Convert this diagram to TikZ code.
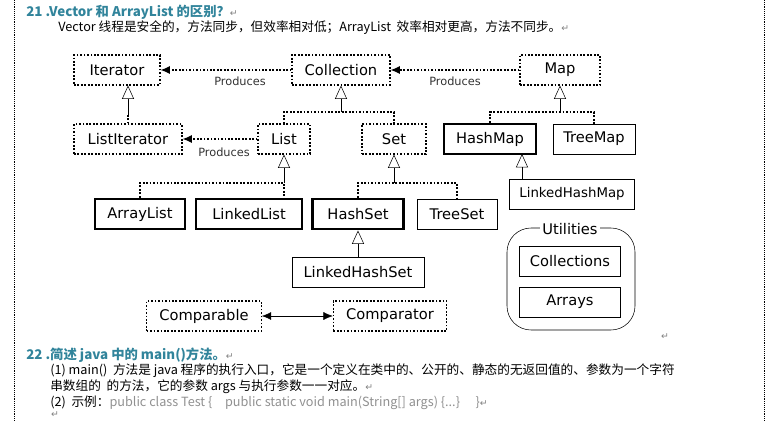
\documentclass[tikz,border=0pt]{standalone}
\usepackage{fontspec}
\setmainfont{DejaVu Sans}
\newfontfamily\cjk{Noto Sans CJK SC}
\newfontfamily\djv{DejaVu Sans}
\newcommand\retmark{{\djv\mdseries\textcolor{gray}{\fontsize{7}{8}\selectfont ↵}}}
\usetikzlibrary{arrows.meta}
\definecolor{teal1}{HTML}{31849B}
\definecolor{greyt}{HTML}{909090}
\tikzset{
  dl/.style={line width=0.8pt,dash pattern=on 1.3pt off 1.3pt},
  dbox/.style={draw,dl,minimum height=22.5pt,inner xsep=4pt,font=\fontsize{11}{12}\selectfont},
  sbox/.style={draw,minimum height=22.5pt,inner xsep=4pt,font=\fontsize{11}{12}\selectfont},
  tbox/.style={sbox,line width=2.2pt},
  prod/.style={font=\fontsize{8.5}{10}\selectfont,text=black!80},
  dep/.style={dl,-{Latex[length=7pt,width=6pt]}},
  inh/.style={-{Triangle[open,length=10pt,width=9pt]}},
  txt/.style={anchor=west,inner sep=0pt,font=\cjk\fontsize{9.5}{11}\selectfont},
}
\begin{document}
\begin{tikzpicture}[x=0.75pt,y=-0.75pt]
\useasboundingbox (0,0) rectangle (774,421);
\draw[densely dotted] (14,0) -- (14,421);
\draw[densely dotted] (764,0) -- (764,421);
\node[txt,text=teal1,font=\cjk\bfseries\fontsize{10}{11}\selectfont] (h1) at (26,12) {21 .Vector 和 ArrayList 的区别？\retmark};
\node[txt] (t1) at (58,28) {Vector 线程是安全的，方法同步，但效率相对低；ArrayList\ \ 效率相对更高，方法不同步。\retmark};
% diagram
\node[dbox,minimum width=64.5pt] (it) at (117,70) {Iterator};
\node[dbox,minimum width=73.5pt] (co) at (341,70) {Collection};
\node[dbox,minimum width=60pt] (ma) at (560,70) {Map};
\node[dbox,minimum width=81pt] (li) at (128,139) {ListIterator};
\node[dbox,minimum width=39pt] (l) at (284,139) {List};
\node[dbox,minimum width=48pt] (s) at (394,139) {Set};
\node[tbox,minimum width=69pt] (hm) at (490,139) {HashMap};
\node[sbox,minimum width=61.5pt] (tm) at (594,139) {TreeMap};
\node[sbox,minimum width=93.5pt,font=\fontsize{10}{12}\selectfont] (lhm) at (572,194) {LinkedHashMap};
\node[tbox,minimum width=67.5pt] (al) at (140,214) {ArrayList};
\node[tbox,minimum width=79.5pt] (ll) at (249,214) {LinkedList};
\node[tbox,minimum width=68pt] (hs) at (358,214) {HashSet};
\node[sbox,minimum width=60pt] (ts) at (457,214) {TreeSet};
\node[sbox,minimum width=99pt] (lhs) at (358,272) {LinkedHashSet};
\node[dbox,minimum width=86pt] (cb) at (204,316) {Comparable};
\node[dbox,minimum width=85pt] (ct) at (390,316) {Comparator};
\draw[rounded corners=18pt] (507,228) rectangle (635,330);
\node[fill=white,font=\fontsize{11}{12}\selectfont,inner sep=2pt] (ut) at (570,229) {Utilities};
\node[sbox,minimum width=76pt] (cs) at (570,261) {Collections};
\node[sbox,minimum width=76pt] (ar) at (570,302) {Arrays};
% produces
\draw[dep] (co) -- (it);
\draw[dep] (ma) -- (co);
\draw[dep] (l) -- (li);
\node[prod] (p1) at (240,81) {Produces};
\node[prod] (p2) at (455,81) {Produces};
\node[prod] (p3) at (224,152) {Produces};
% inheritance
\draw[dl] (li.north) -- ++(0,-8);
\draw[inh] (li.north)++(0,-8) -- (li.north |- it.south);
\coordinate (j1) at (341,112);
\draw[dl] (l.north) |- (j1) -| (s.north);
\draw[inh] (j1) -- (co.south);
\coordinate (j2) at (284,183);
\draw[dl] (al.north) |- (j2) -- (284,200);
\draw[inh] (j2) -- (l.south);
\coordinate (j3) at (394,183);
\draw[dl] (hs.north) |- (j3) -| (ts.north);
\draw[inh] (j3) -- (s.south);
\coordinate (j4) at (560,112);
\draw[dl] (hm.north) |- (j4) -| (tm.north);
\draw[inh] (j4) -- (ma.south);
\draw[inh] (lhm.north -| 522,0) -- (522,154);
\draw[inh] (lhs.north) -- (hs.south);
\draw[{Latex[length=7pt,width=6pt]}-{Latex[length=7pt,width=6pt]}] (cb) -- (ct);
\node[inner sep=0pt] (r0) at (665,337) {\retmark};
% bottom text
\node[txt,text=teal1,font=\cjk\bfseries\fontsize{10}{11}\selectfont] (h2) at (26,355) {22 .简述 java 中的 main()方法。\retmark};
\node[txt] (b1) at (50,371) {(1) main()\ \ 方法是\ java 程序的执行入口，它是一个定义在类中的、公开的、静态的无返回值的、参数为一个字符};
\node[txt] (b2) at (50,387) {串数组的\ \ 的方法，它的参数 args 与执行参数一一对应。\retmark};
\node[txt] (b3) at (50,403) {(2)\ \ 示例：\textcolor{greyt}{public class Test \{\quad public static void main(String[] args) \{...\}\quad\ \}}\retmark};
\node[inner sep=0pt] (r1) at (55,415) {\retmark};
\end{tikzpicture}
\end{document}
